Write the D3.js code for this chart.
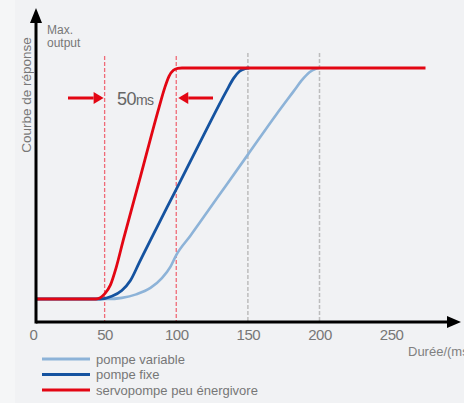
<!DOCTYPE html>
<html>
<head>
<meta charset="utf-8">
<script src="https://cdn.jsdelivr.net/npm/d3@7"></script>
<style>
  body { margin: 0; background: #f1f2f4; }
  svg { display: block; font-family: "Liberation Sans", Arial, sans-serif; }
</style>
</head>
<body>
<svg id="chart"></svg>
<script>
// time (ms) / relative output (0 = idle, 1 = max output)
const variableTime  = [2, 52, 62, 72, 82, 90, 96, 100, 110, 130, 150, 170, 182, 188, 193, 197, 200];
const variableValue = [0, 0, 0.005, 0.02, 0.048, 0.09, 0.14, 0.19, 0.275, 0.45, 0.625, 0.8, 0.9, 0.95, 0.982, 0.996, 1];

const fixedTime  = [2, 47, 55, 62, 68, 74, 82, 100, 120, 135, 140, 144, 148, 151];
const fixedValue = [0, 0, 0.012, 0.037, 0.08, 0.155, 0.255, 0.475, 0.72, 0.9, 0.955, 0.985, 0.997, 1];

const servoTime  = [2, 44, 50, 54, 58, 63, 75, 88, 92, 95, 98, 101, 104, 274];
const servoValue = [0, 0, 0.022, 0.06, 0.135, 0.255, 0.53, 0.83, 0.915, 0.965, 0.99, 0.998, 1, 1];

const xTicks = [0, 50, 100, 150, 200, 250];
const redMarks = [50, 100];
const grayMarks = [150, 200];
const legendLabels = ['pompe variable', 'pompe fixe', 'servopompe peu énergivore'];
const colors = ['#8db3d8', '#1553a0', '#e30613'];

const width = 464, height = 403;
const svg = d3.select('#chart').attr('width', width).attr('height', height);

svg.append('rect').attr('width', width).attr('height', height).attr('fill', '#f1f2f4');
svg.append('rect').attr('width', 15).attr('height', height).attr('fill', '#f5f6f7');

const x = d3.scaleLinear().domain([0, 200]).range([33, 319.5]);
const y = d3.scaleLinear().domain([0, 1]).range([299, 68]);
const axisY = 322, axisX = 36;

// reference lines
svg.selectAll('.red-mark')
  .data(redMarks)
  .join('line')
  .attr('x1', d => x(d)).attr('x2', d => x(d))
  .attr('y1', 56).attr('y2', axisY)
  .attr('stroke', '#ef6b77').attr('stroke-width', 1.3)
  .attr('stroke-dasharray', '4,2');

svg.selectAll('.gray-mark')
  .data(grayMarks)
  .join('line')
  .attr('x1', d => x(d)).attr('x2', d => x(d))
  .attr('y1', 53).attr('y2', axisY)
  .attr('stroke', '#bdbdbd').attr('stroke-width', 1.5)
  .attr('stroke-dasharray', '4,2');

// curves
const line = d3.line()
  .x(d => x(d[0]))
  .y(d => y(d[1]))
  .curve(d3.curveMonotoneX);

const series = [
  d3.zip(variableTime, variableValue),
  d3.zip(fixedTime, fixedValue),
  d3.zip(servoTime, servoValue)
];

svg.selectAll('.curve')
  .data(series)
  .join('path')
  .attr('class', 'curve')
  .attr('d', line)
  .attr('fill', 'none')
  .attr('stroke', (d, i) => colors[i])
  .attr('stroke-width', (d, i) => i === 0 ? 2.6 : 2.8)
  .attr('stroke-linejoin', 'round');

// axes
svg.append('line')
  .attr('x1', axisX).attr('x2', 450)
  .attr('y1', axisY).attr('y2', axisY)
  .attr('stroke', '#000').attr('stroke-width', 3);
svg.append('path')
  .attr('d', `M447,${axisY - 6}L461,${axisY}L447,${axisY + 6}Z`)
  .attr('fill', '#000');

svg.append('line')
  .attr('x1', axisX).attr('x2', axisX)
  .attr('y1', axisY + 1.5).attr('y2', 20)
  .attr('stroke', '#000').attr('stroke-width', 3);
svg.append('path')
  .attr('d', `M${axisX - 6},23L${axisX},8L${axisX + 6},23Z`)
  .attr('fill', '#000');

const xAxis = d3.axisBottom(x)
  .tickValues(xTicks)
  .tickSize(0)
  .tickPadding(0);

const xAxisG = svg.append('g')
  .attr('transform', `translate(0,${axisY})`)
  .call(xAxis);
xAxisG.select('.domain').remove();
xAxisG.selectAll('text')
  .attr('dy', 0)
  .attr('y', 18)
  .attr('fill', '#777')
  .attr('font-size', 15)
  .attr('font-family', '"Liberation Sans", Arial, sans-serif')
  .attr('letter-spacing', '-0.5');

svg.append('text')
  .attr('x', 408).attr('y', 356)
  .attr('fill', '#808080').attr('font-size', 13)
  .text('Durée/(ms)');

svg.append('text')
  .attr('transform', 'translate(31,95) rotate(-90)')
  .attr('text-anchor', 'middle')
  .attr('fill', '#777').attr('font-size', 13.5)
  .text('Courbe de réponse');

svg.append('text')
  .attr('x', 47).attr('y', 34)
  .attr('fill', '#777').attr('font-size', 12)
  .text('Max.');
svg.append('text')
  .attr('x', 47).attr('y', 47)
  .attr('fill', '#777').attr('font-size', 12)
  .text('output');

// 50ms annotation arrows
const arrowY = 98;
const arrows = [
  { from: 68, to: x(50) - 1 },
  { from: 213, to: x(100) + 2 }
];
arrows.forEach(a => {
  const dir = a.to > a.from ? 1 : -1;
  const headBase = a.to - dir * 10;
  svg.append('line')
    .attr('x1', a.from).attr('x2', headBase)
    .attr('y1', arrowY).attr('y2', arrowY)
    .attr('stroke', '#e30613').attr('stroke-width', 3);
  svg.append('path')
    .attr('d', `M${headBase},${arrowY - 6}L${a.to},${arrowY}L${headBase},${arrowY + 6}Z`)
    .attr('fill', '#e30613');
});

const label = svg.append('text')
  .attr('x', 117).attr('y', 105)
  .attr('fill', '#666');
label.append('tspan').attr('font-size', 18).attr('letter-spacing', '-0.5').text('50');
label.append('tspan').attr('font-size', 14).attr('letter-spacing', '-0.8').text('ms');

// legend
const legend = svg.selectAll('.legend')
  .data(legendLabels)
  .join('g')
  .attr('transform', (d, i) => `translate(42,${359 + i * 15.5})`);
legend.append('line')
  .attr('x1', 0).attr('x2', 48)
  .attr('stroke', (d, i) => colors[i])
  .attr('stroke-width', 3);
legend.append('text')
  .attr('x', 54).attr('y', 4.5)
  .attr('fill', '#777').attr('font-size', 13)
  .text(d => d);
</script>
</body>
</html>
